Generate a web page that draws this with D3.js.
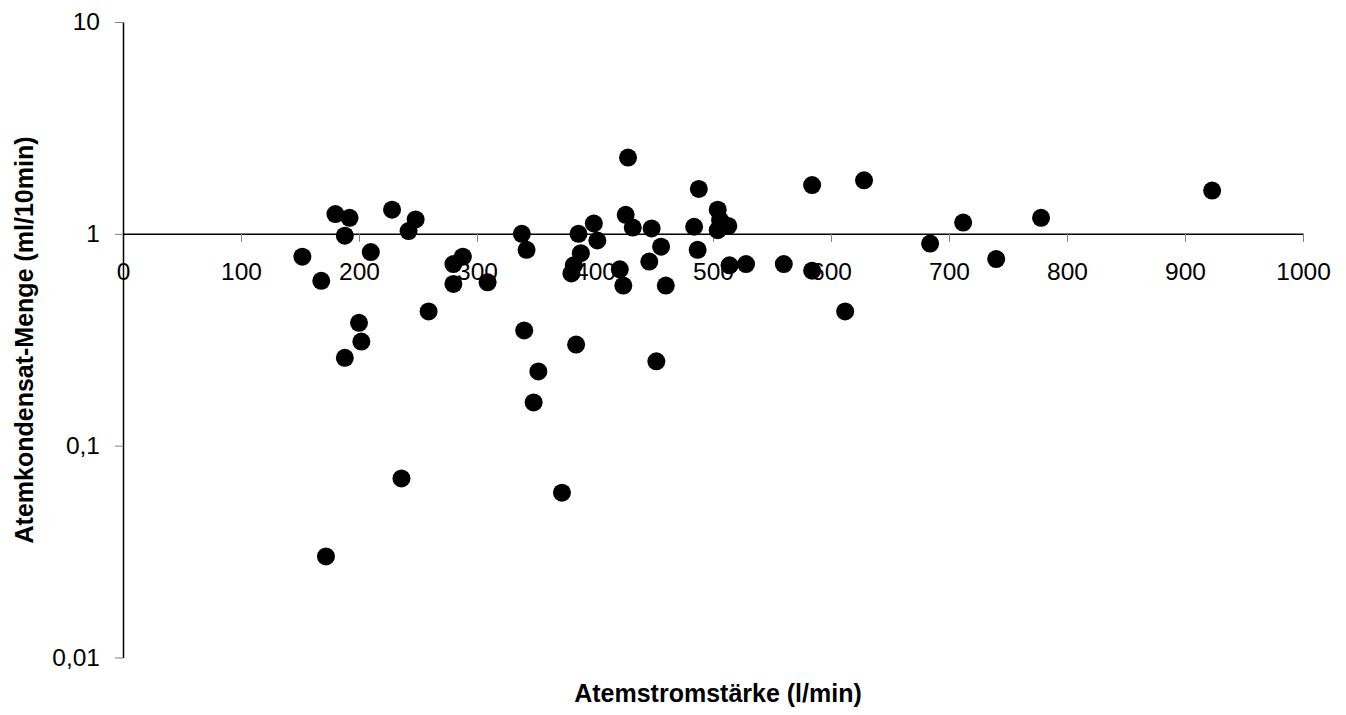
<!DOCTYPE html>
<html lang="de">
  <head>
    <meta charset="UTF-8">
    <title>Atemkondensat</title>
    <style>
      html, body {
        margin: 0;
        padding: 0;
        background: #fff;
      }

      text {
        font-family: "Liberation Sans", Arial, sans-serif;
        fill: #000;
      }

      .axis text {
        font-size: 24.5px;
      }

      .axis .tick line {
        stroke: #808080;
        stroke-width: 1px;
      }

      .axis .domain {
        stroke: #000;
        stroke-width: 1.5px;
      }

      .title {
        font-size: 25px;
        font-weight: bold;
        text-anchor: middle;
      }
    </style>
  </head>
  <body>
    <svg width="1346" height="715"></svg>
    <script src="https://cdn.jsdelivr.net/npm/d3@7"></script>
    <script>

      // Messwerte: Atemstromstärke (l/min)
      const flow = [
        152, 168, 180, 188, 192, 210, 172, 188, 200, 202,
        228, 242, 248, 236, 259, 280, 280, 288, 309, 340,
        338, 342, 352, 348, 372, 382, 380, 384, 386, 388,
        399, 402, 421, 424, 426, 428, 432, 448, 446, 452,
        456, 460, 484, 487, 488, 504, 504, 513, 506, 514,
        528, 560, 584, 584, 612, 628, 684, 712, 740, 778,
        923
      ]

      // Atemkondensat-Menge (ml/10min)
      const volume = [
        0.78, 0.60, 1.24, 0.98, 1.19, 0.82, 0.03, 0.26, 0.38, 0.31,
        1.30, 1.03, 1.17, 0.07, 0.43, 0.72, 0.58, 0.78, 0.59, 0.35,
        1.00, 0.84, 0.224, 0.16, 0.06, 0.71, 0.65, 0.30, 1.00, 0.81,
        1.12, 0.93, 0.68, 0.57, 1.23, 2.29, 1.07, 1.06, 0.74, 0.25,
        0.87, 0.57, 1.08, 0.84, 1.63, 1.30, 1.04, 1.09, 1.16, 0.71,
        0.72, 0.72, 0.67, 1.70, 0.43, 1.79, 0.90, 1.13, 0.76, 1.19,
        1.60
      ]

      // Achsenbeschriftung
      const xTicks = [0, 100, 200, 300, 400, 500, 600, 700, 800, 900, 1000]
      const yTicks = [0.01, 0.1, 1, 10]
      const yTickLabels = ['0,01', '0,1', '1', '10']

      const svg = d3.select('svg')

      const x = d3.scaleLinear()
        .domain([0, 1000])
        .range([123, 1303])

      const y = d3.scaleLog()
        .domain([0.01, 10])
        .range([657.5, 22])

      // y-Achse
      svg.append('g')
        .attr('class', 'axis')
        .attr('transform', 'translate(' + x(0) + ',0)')
        .call(d3.axisLeft(y)
          .tickValues(yTicks)
          .tickFormat(function (d, i) { return yTickLabels[i] })
          .tickSize(8)
          .tickSizeOuter(0)
          .tickPadding(15))

      // x-Achse liegt bei y = 1
      const xAxis = svg.append('g')
        .attr('class', 'axis')
        .attr('transform', 'translate(0,' + y(1) + ')')
        .call(d3.axisBottom(x)
          .tickValues(xTicks)
          .tickFormat(d3.format('d'))
          .tickSize(8)
          .tickSizeOuter(0)
          .tickPadding(21))

      // kein Tick bei 0, dort liegt die y-Achse
      xAxis.selectAll('.tick line')
        .filter(function (d) { return d === 0 })
        .remove()

      // Punkte
      svg.append('g')
        .selectAll('circle')
        .data(flow.map(function (d, i) { return [d, volume[i]] }))
        .enter().append('circle')
        .attr('cx', function (d) { return x(d[0]) })
        .attr('cy', function (d) { return y(d[1]) })
        .attr('r', 9)
        .attr('fill', '#000')

      // Achsentitel
      svg.append('text')
        .attr('class', 'title')
        .attr('x', 718)
        .attr('y', 702)
        .text('Atemstromstärke (l/min)')

      svg.append('text')
        .attr('class', 'title')
        .attr('transform', 'translate(33,340) rotate(-90)')
        .text('Atemkondensat-Menge (ml/10min)')

    </script>
  </body>
</html>
